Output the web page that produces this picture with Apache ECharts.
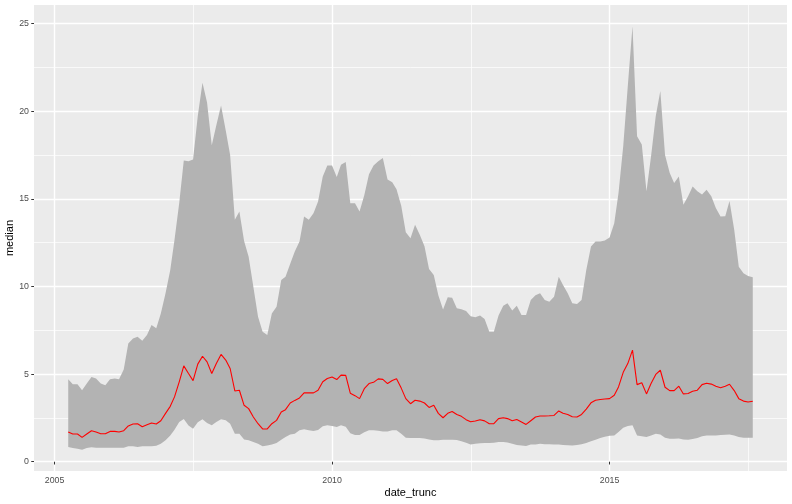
<!DOCTYPE html>
<html>
<head>
<meta charset="utf-8">
<script src="https://cdn.jsdelivr.net/npm/echarts@6/dist/echarts.min.js"></script>
<style>
  html, body { margin: 0; padding: 0; background: #ffffff; }
  #chart { width: 792px; height: 504px; }
</style>
</head>
<body>
<div id="chart"></div>
<script>
// Monthly series starting April 2005
const startYear = 2005;
const startMonth = 4;

const upper = [
  4.71, 4.42, 4.42, 4.08, 4.46, 4.84, 4.75, 4.46, 4.37, 4.71,
  4.75, 4.71, 5.26, 6.75, 7.03, 7.13, 6.90, 7.23, 7.80, 7.61,
  8.46, 9.61, 10.94, 12.66, 14.76, 17.18, 17.14, 17.24, 19.72, 21.62,
  20.5, 18.06, 19.2, 20.33, 18.9, 17.5, 13.8, 14.28, 12.6, 11.7,
  9.99, 8.27, 7.41, 7.23, 8.46, 8.84, 10.37, 10.56, 11.3, 11.99,
  12.56, 13.99, 13.80, 14.18, 14.85, 16.28, 16.9, 16.9, 16.25, 16.95,
  17.1, 14.75, 14.75, 14.28, 15.2, 16.4, 16.9, 17.14, 17.33, 16.1,
  15.95, 15.55, 14.6, 13.1, 12.75, 13.52, 12.95, 12.3, 11.0, 10.66,
  9.5, 8.69, 9.38, 9.35, 8.75, 8.7, 8.6, 8.3, 8.24, 8.35,
  8.15, 7.42, 7.42, 8.35, 8.9, 9.04, 8.63, 8.9, 8.37, 8.37,
  9.23, 9.5, 9.61, 9.23, 9.13, 9.42, 10.56, 10.08, 9.61, 9.04,
  9.0, 9.23, 10.94, 12.28, 12.57, 12.57, 12.62, 12.8, 13.61, 15.33,
  18.0, 21.43, 24.85, 18.57, 18.1, 15.43, 17.43, 19.72, 21.15, 17.5,
  16.47, 15.9, 16.28, 14.66, 15.14, 15.71, 15.43, 15.24, 15.52, 15.14,
  14.47, 13.99, 14.0, 14.87, 13.23, 11.13, 10.75, 10.6, 10.53
];

const median = [
  1.70, 1.58, 1.58, 1.39, 1.58, 1.77, 1.70, 1.60, 1.60, 1.73,
  1.73, 1.70, 1.77, 2.04, 2.15, 2.17, 2.00, 2.11, 2.21, 2.15,
  2.34, 2.76, 3.16, 3.70, 4.56, 5.47, 5.03, 4.63, 5.57, 6.02,
  5.70, 5.03, 5.60, 6.12, 5.80, 5.32, 4.04, 4.08, 3.22, 3.03,
  2.55, 2.17, 1.87, 1.87, 2.17, 2.36, 2.84, 2.97, 3.35, 3.50,
  3.64, 3.93, 3.93, 3.93, 4.08, 4.56, 4.75, 4.84, 4.69, 4.94,
  4.93, 3.91, 3.77, 3.60, 4.17, 4.46, 4.53, 4.73, 4.70, 4.46,
  4.63, 4.73, 4.20, 3.60, 3.31, 3.51, 3.46, 3.35, 3.10, 3.22,
  2.76, 2.51, 2.76, 2.87, 2.70, 2.59, 2.40, 2.28, 2.32, 2.40,
  2.33, 2.17, 2.17, 2.46, 2.51, 2.46, 2.34, 2.41, 2.27, 2.13,
  2.34, 2.55, 2.61, 2.61, 2.62, 2.64, 2.90, 2.77, 2.70, 2.57,
  2.55, 2.70, 3.00, 3.36, 3.51, 3.55, 3.58, 3.60, 3.79, 4.27,
  5.10, 5.60, 6.37, 4.40, 4.51, 3.87, 4.46, 4.98, 5.22, 4.25,
  4.06, 4.06, 4.31, 3.87, 3.89, 4.02, 4.08, 4.40, 4.48, 4.43,
  4.31, 4.22, 4.31, 4.42, 4.06, 3.60, 3.46, 3.41, 3.45
];

const lower = [
  0.84, 0.78, 0.74, 0.68, 0.78, 0.82, 0.80, 0.80, 0.80, 0.80,
  0.80, 0.80, 0.80, 0.88, 0.88, 0.84, 0.88, 0.88, 0.89, 0.91,
  1.03, 1.22, 1.50, 1.83, 2.27, 2.44, 2.07, 1.88, 2.25, 2.42,
  2.21, 2.08, 2.27, 2.42, 2.36, 2.17, 1.60, 1.60, 1.27, 1.22,
  1.12, 1.03, 0.88, 0.93, 0.99, 1.07, 1.26, 1.41, 1.56, 1.60,
  1.79, 1.85, 1.80, 1.75, 1.81, 2.02, 2.08, 2.04, 1.98, 2.08,
  2.00, 1.62, 1.53, 1.52, 1.68, 1.79, 1.80, 1.77, 1.72, 1.73,
  1.79, 1.79, 1.60, 1.37, 1.36, 1.36, 1.35, 1.32, 1.27, 1.22,
  1.22, 1.26, 1.26, 1.26, 1.24, 1.17, 1.08, 0.98, 1.03, 1.05,
  1.07, 1.07, 1.08, 1.12, 1.13, 1.10, 1.03, 0.95, 0.92, 0.90,
  0.98, 0.99, 1.02, 1.00, 1.00, 0.98, 0.98, 0.95, 0.94, 0.93,
  0.95, 1.00, 1.07, 1.17, 1.26, 1.36, 1.43, 1.48, 1.50, 1.69,
  1.94, 2.04, 2.08, 1.50, 1.46, 1.41, 1.50, 1.60, 1.55, 1.37,
  1.31, 1.31, 1.33, 1.27, 1.26, 1.30, 1.35, 1.45, 1.49, 1.50,
  1.50, 1.52, 1.54, 1.56, 1.50, 1.41, 1.37, 1.37, 1.37
];

const xTicks = [2005, 2010, 2015];
const yTicks = [0, 5, 10, 15, 20, 25];

// month index -> decimal year (first day of month)
function monthToYear(i) {
  const m = startMonth - 1 + i;
  const y = startYear + Math.floor(m / 12);
  const mo = m % 12;
  const t0 = Date.UTC(y, 0, 1), t1 = Date.UTC(y + 1, 0, 1);
  return y + (Date.UTC(y, mo, 1) - t0) / (t1 - t0);
}
const xs = median.map((_, i) => monthToYear(i));

const xMin = xs[0], xMax = xs[xs.length - 1];
const xPad = (xMax - xMin) * 0.05;
const allY = upper.concat(lower);
const yLo = Math.min.apply(null, allY), yHi = Math.max.apply(null, allY);
const yPad = (yHi - yLo) * 0.05;

const chart = echarts.init(document.getElementById('chart'), null, { renderer: 'canvas' });
const FONT = "'Liberation Sans', Arial, Helvetica, sans-serif";

chart.setOption({
  animation: false,
  backgroundColor: '#FFFFFF',
  textStyle: { fontFamily: FONT },
  grid: {
    left: 34, right: 5, top: 5, bottom: 33,
    show: true, backgroundColor: '#EBEBEB', borderWidth: 0,
    containLabel: false,
    outerBoundsMode: 'none'
  },
  xAxis: {
    type: 'value',
    min: xMin - xPad,
    max: xMax + xPad,
    splitNumber: 3,
    name: 'date_trunc',
    nameLocation: 'middle',
    nameGap: 16,
    nameMoveOverlap: false,
    nameTextStyle: { color: '#000000', fontSize: 11, fontFamily: FONT },
    axisLine: { show: false },
    axisTick: { show: true, length: 2.75, customValues: xTicks, lineStyle: { color: '#333333', width: 1 } },
    axisLabel: {
      customValues: xTicks, color: '#4D4D4D', fontSize: 8.8, margin: 5, fontFamily: FONT,
      formatter: v => String(Math.round(v))
    },
    splitLine: { show: true, lineStyle: { color: '#FFFFFF', width: 1.4 } },
    minorTick: { show: false, splitNumber: 2 },
    minorSplitLine: { show: true, lineStyle: { color: '#FFFFFF', width: 0.7 } }
  },
  yAxis: {
    type: 'value',
    min: yLo - yPad,
    max: yHi + yPad,
    splitNumber: 5,
    name: 'median',
    nameLocation: 'middle',
    nameGap: 19,
    nameMoveOverlap: false,
    nameTextStyle: { color: '#000000', fontSize: 11, fontFamily: FONT },
    axisLine: { show: false },
    axisTick: { show: true, length: 2.75, customValues: yTicks, lineStyle: { color: '#333333', width: 1 } },
    axisLabel: {
      customValues: yTicks, color: '#4D4D4D', fontSize: 8.8, margin: 5, fontFamily: FONT,
      formatter: v => String(Math.round(v))
    },
    splitLine: { show: true, lineStyle: { color: '#FFFFFF', width: 1.4 } },
    minorTick: { show: false, splitNumber: 2 },
    minorSplitLine: { show: true, lineStyle: { color: '#FFFFFF', width: 0.7 } }
  },
  series: [
    {
      type: 'custom',
      name: 'ribbon',
      silent: true,
      data: xs.map((x, i) => [x, lower[i], upper[i]]),
      encode: { x: 0, y: [1, 2] },
      renderItem: function (params, api) {
        if (params.dataIndex !== 0) return;
        const pts = [];
        for (let i = 0; i < xs.length; i++) pts.push(api.coord([xs[i], upper[i]]));
        for (let i = xs.length - 1; i >= 0; i--) pts.push(api.coord([xs[i], lower[i]]));
        return { type: 'polygon', shape: { points: pts }, style: { fill: '#B3B3B3' } };
      },
      z: 2
    },
    {
      type: 'line',
      name: 'median',
      data: xs.map((x, i) => [x, median[i]]),
      showSymbol: false,
      symbol: 'none',
      lineStyle: { color: '#FF0000', width: 1.1 },
      itemStyle: { color: '#FF0000' },
      silent: true,
      z: 3
    }
  ]
});
</script>
</body>
</html>
